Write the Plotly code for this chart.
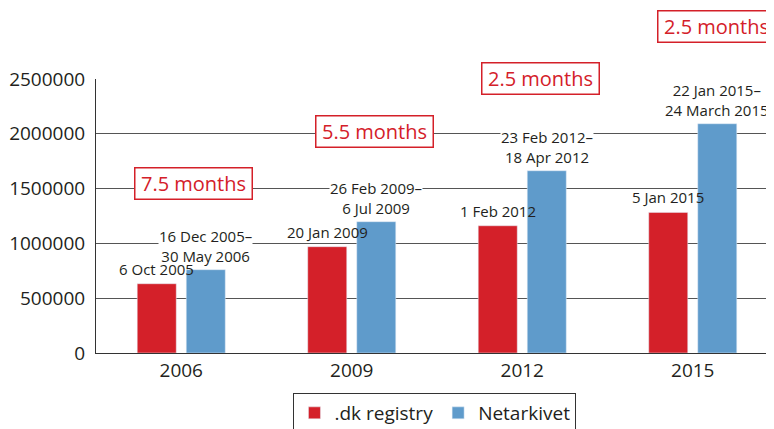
import plotly.graph_objects as go

years = ["2006", "2009", "2012", "2015"]
dk_registry = [632000, 970000, 1161000, 1283000]
netarkivet = [760000, 1198000, 1663000, 2092000]
dk_dates = ["6 Oct 2005", "20 Jan 2009", "1 Feb 2012", "5 Jan 2015"]
net_dates = ["16 Dec 2005–<br>30 May 2006", "26 Feb 2009–<br>6 Jul 2009",
             "23 Feb 2012–<br>18 Apr 2012", "22 Jan 2015–<br>24 March 2015"]
durations = ["7.5 months", "5.5 months", "2.5 months", "2.5 months"]
duration_y = [1549000, 2019000, 2503000, 2982000]
duration_xshift = [12.25, 22.25, 18.25, 23.25]
Y_MAX = 2500000

RED = "#d42029"
BLUE = "#5f9bcb"
TXT = "#231f20"
FONT = "Open Sans"

fig = go.Figure()
fig.add_trace(go.Bar(x=years, y=dk_registry, name=".dk registry", marker_color=RED))
fig.add_trace(go.Bar(x=years, y=netarkivet, name="Netarkivet", marker_color=BLUE))

ann = []
for i, yr in enumerate(years):
    # category axis: annotation x given as the category index
    ann.append(dict(x=i, y=netarkivet[i], xref="x", yref="y", text=net_dates[i],
                    showarrow=False, xshift=24.5, yshift=3, yanchor="bottom",
                    bgcolor="white", borderpad=0,
                    font=dict(family=FONT, size=15, color=TXT)))
    ann.append(dict(x=i, y=dk_registry[i], xref="x", yref="y", text=dk_dates[i],
                    showarrow=False, xshift=-24.5, yshift=3, yanchor="bottom",
                    font=dict(family=FONT, size=15, color=TXT)))
    ann.append(dict(x=i, y=duration_y[i] / Y_MAX, xref="x", yref="paper", text=durations[i],
                    showarrow=False, xshift=duration_xshift[i], yanchor="middle",
                    bgcolor="white", bordercolor=RED, borderwidth=1.5, borderpad=2,
                    width=112, height=26,
                    font=dict(family=FONT, size=20, color=RED)))

fig.update_layout(
    width=774, height=429,
    margin=dict(l=88, r=4, t=71, b=84, autoexpand=False),
    plot_bgcolor="white", paper_bgcolor="white",
    barmode="group", bargap=0.425, bargroupgap=0.204,
    font=dict(family=FONT, color=TXT, size=19),
    annotations=ann,
    showlegend=True,
    legend=dict(orientation="h", x=0.497, xanchor="center", y=-0.146, yanchor="top",
                bordercolor="#333", borderwidth=1, font=dict(size=19, color=TXT)),
    xaxis=dict(type="category", range=[-0.5, 3.5], autorange=False,
               showline=True, linecolor="#333", linewidth=1, ticks="",
               tickfont=dict(size=19, color=TXT), showgrid=False),
    yaxis=dict(range=[0, Y_MAX], autorange=False,
               tickvals=[0, 500000, 1000000, 1500000, 2000000, 2500000],
               tickformat="d", showline=True, linecolor="#333", linewidth=1,
               gridcolor="#555", gridwidth=1, zeroline=False, ticks="",
               ticklabelstandoff=6, tickfont=dict(size=19, color=TXT)),
)

fig.write_html("out.html")
